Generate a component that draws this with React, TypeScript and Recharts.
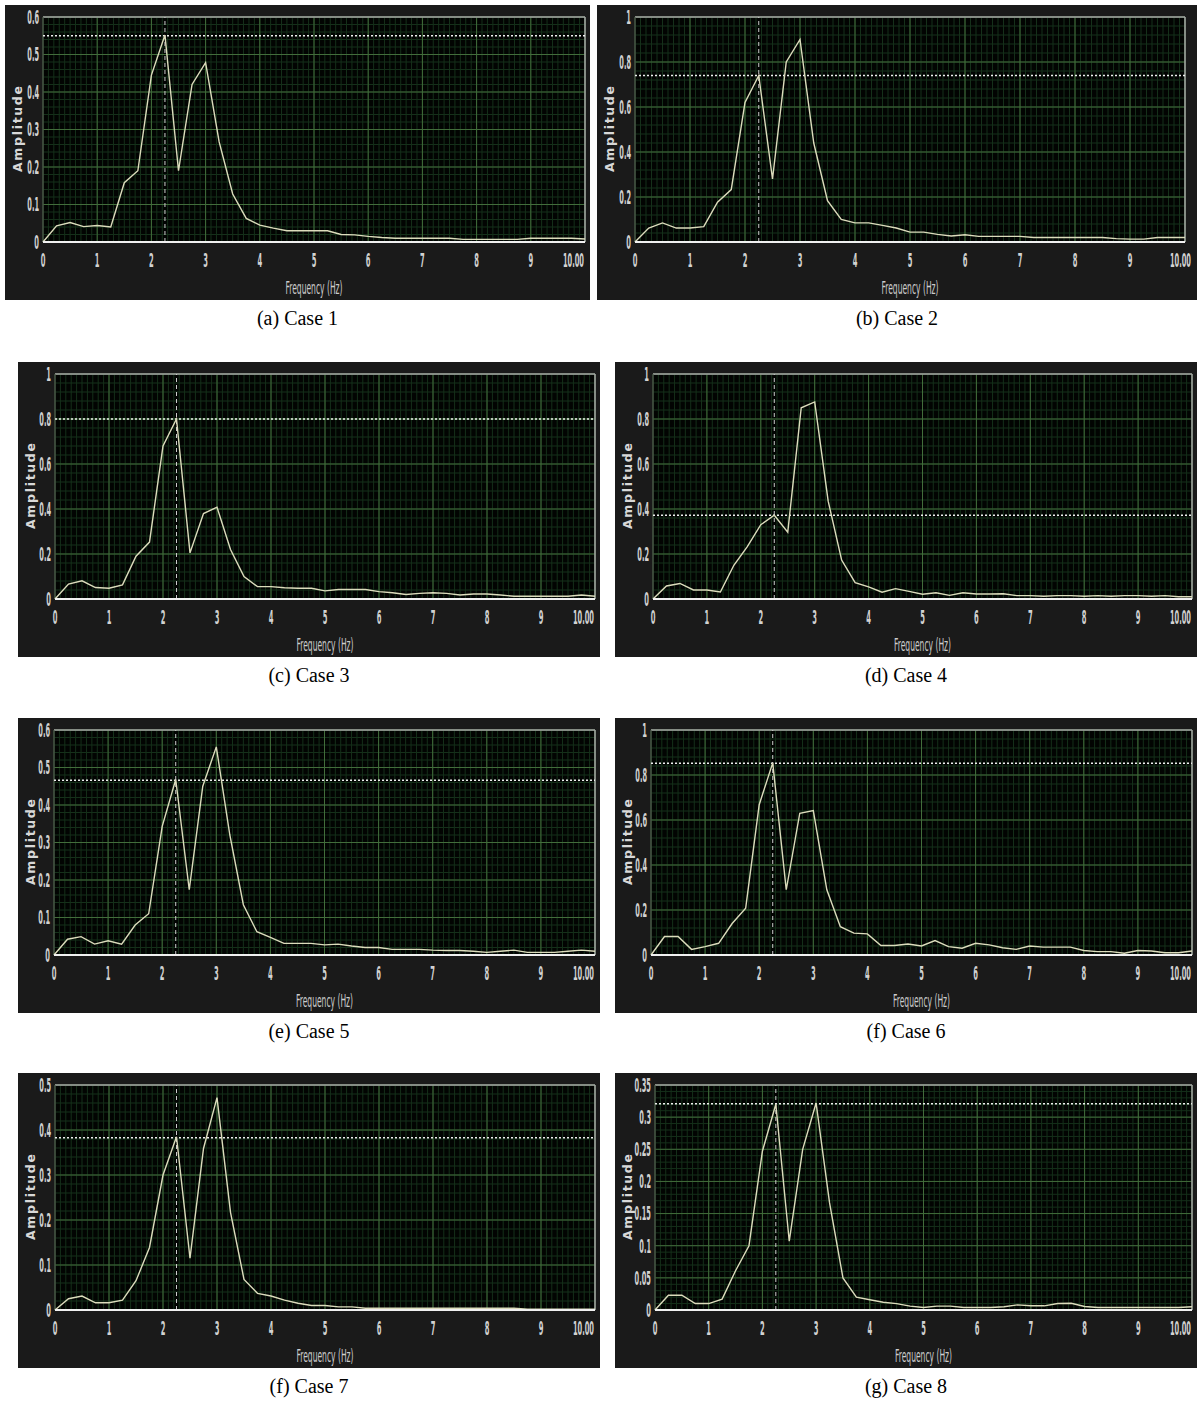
import React from "react";
import { LineChart, Line, XAxis, YAxis, CartesianGrid, ReferenceLine } from "recharts";

// frequency bins (Hz)
const FREQ = [
  0, 0.25, 0.5, 0.75, 1, 1.25, 1.5, 1.75, 2, 2.25, 2.5, 2.75, 3, 3.25, 3.5, 3.75, 4, 4.25, 4.5, 4.75,
  5, 5.25, 5.5, 5.75, 6, 6.25, 6.5, 6.75, 7, 7.25, 7.5, 7.75, 8, 8.25, 8.5, 8.75, 9, 9.25, 9.5, 9.75, 10,
];

const CASE1 = [
  0, 0.043, 0.052, 0.041, 0.044, 0.04, 0.158, 0.19, 0.445, 0.552, 0.19, 0.42, 0.478, 0.267, 0.128, 0.063, 0.045, 0.037, 0.03, 0.03,
  0.03, 0.03, 0.02, 0.019, 0.015, 0.012, 0.01, 0.01, 0.01, 0.01, 0.01, 0.007, 0.007, 0.007, 0.007, 0.007, 0.01, 0.01, 0.01, 0.01, 0.008,
];
const CASE2 = [
  0, 0.062, 0.085, 0.062, 0.062, 0.068, 0.177, 0.233, 0.62, 0.74, 0.28, 0.8, 0.9, 0.44, 0.184, 0.1, 0.085, 0.085, 0.074, 0.062,
  0.044, 0.044, 0.034, 0.027, 0.032, 0.025, 0.025, 0.025, 0.025, 0.02, 0.02, 0.02, 0.02, 0.02, 0.02, 0.015, 0.013, 0.013, 0.02, 0.02, 0.02,
];
const CASE3 = [
  0, 0.066, 0.081, 0.051, 0.048, 0.063, 0.19, 0.253, 0.68, 0.8, 0.205, 0.38, 0.408, 0.22, 0.1, 0.055, 0.055, 0.05, 0.048, 0.048,
  0.036, 0.042, 0.042, 0.042, 0.033, 0.028, 0.02, 0.025, 0.028, 0.025, 0.018, 0.022, 0.022, 0.018, 0.012, 0.012, 0.012, 0.012, 0.012, 0.018, 0.012,
];
const CASE4 = [
  0, 0.058, 0.069, 0.04, 0.04, 0.031, 0.15, 0.233, 0.33, 0.372, 0.297, 0.85, 0.876, 0.435, 0.173, 0.073, 0.054, 0.03, 0.046, 0.034,
  0.021, 0.028, 0.016, 0.028, 0.022, 0.022, 0.023, 0.015, 0.015, 0.012, 0.015, 0.015, 0.012, 0.015, 0.012, 0.015, 0.015, 0.012, 0.015, 0.01, 0.01,
];
const CASE5 = [
  0, 0.042, 0.049, 0.029, 0.038, 0.029, 0.08, 0.11, 0.343, 0.468, 0.174, 0.45, 0.555, 0.32, 0.134, 0.062, 0.047, 0.031, 0.031, 0.031,
  0.027, 0.029, 0.024, 0.02, 0.02, 0.015, 0.015, 0.015, 0.013, 0.012, 0.012, 0.01, 0.007, 0.01, 0.013, 0.007, 0.007, 0.007, 0.01, 0.013, 0.01,
];
const CASE6 = [
  0, 0.082, 0.082, 0.025, 0.037, 0.052, 0.14, 0.208, 0.668, 0.854, 0.29, 0.63, 0.642, 0.29, 0.126, 0.097, 0.094, 0.042, 0.042, 0.049,
  0.04, 0.064, 0.037, 0.03, 0.052, 0.045, 0.032, 0.025, 0.04, 0.035, 0.035, 0.035, 0.02, 0.015, 0.015, 0.008, 0.02, 0.018, 0.01, 0.01, 0.018,
];
const CASE7 = [
  0, 0.025, 0.031, 0.016, 0.016, 0.022, 0.065, 0.139, 0.3, 0.385, 0.115, 0.359, 0.472, 0.217, 0.068, 0.037, 0.031, 0.022, 0.015, 0.01,
  0.01, 0.007, 0.007, 0.004, 0.004, 0.004, 0.004, 0.004, 0.004, 0.004, 0.004, 0.004, 0.004, 0.004, 0.004, 0.002, 0.002, 0.002, 0.002, 0.002, 0.002,
];
const CASE8 = [
  0, 0.023, 0.023, 0.01, 0.01, 0.017, 0.061, 0.1, 0.247, 0.32, 0.107, 0.25, 0.322, 0.167, 0.05, 0.02, 0.016, 0.012, 0.01, 0.006,
  0.004, 0.006, 0.006, 0.004, 0.004, 0.004, 0.005, 0.008, 0.0065, 0.0065, 0.01, 0.0105, 0.0055, 0.004, 0.004, 0.004, 0.004, 0.004, 0.004, 0.004, 0.005,
];

// level of the dotted marker line in each case
const PEAKS = [0.55, 0.74, 0.8, 0.372, 0.466, 0.852, 0.383, 0.321];
const MARKER_FREQ = 2.25;

const X_TICKS = [0, 1, 2, 3, 4, 5, 6, 7, 8, 9, 10];
const Y_TICKS_06 = [0, 0.1, 0.2, 0.3, 0.4, 0.5, 0.6];
const Y_TICKS_10 = [0, 0.2, 0.4, 0.6, 0.8, 1];
const Y_TICKS_05 = [0, 0.1, 0.2, 0.3, 0.4, 0.5];
const Y_TICKS_035 = [0, 0.05, 0.1, 0.15, 0.2, 0.25, 0.3, 0.35];

const CAPTIONS = ["(a) Case 1", "(b) Case 2", "(c) Case 3", "(d) Case 4", "(e) Case 5", "(f) Case 6", "(f) Case 7", "(g) Case 8"];

const SERIES = [CASE1, CASE2, CASE3, CASE4, CASE5, CASE6, CASE7, CASE8];
const TICK_SETS = [Y_TICKS_06, Y_TICKS_10, Y_TICKS_10, Y_TICKS_10, Y_TICKS_06, Y_TICKS_10, Y_TICKS_05, Y_TICKS_035];

// panel boxes on the page; plotLeft is where x = 0 sits inside the panel
const LAYOUT = [
  { left: 5, top: 5, width: 585, right: 5, plotLeft: 38 },
  { left: 597, top: 5, width: 600, right: 12, plotLeft: 38 },
  { left: 18, top: 362, width: 582, right: 5, plotLeft: 37 },
  { left: 615, top: 362, width: 582, right: 5, plotLeft: 38 },
  { left: 18, top: 718, width: 582, right: 5, plotLeft: 36 },
  { left: 615, top: 718, width: 582, right: 5, plotLeft: 36 },
  { left: 18, top: 1073, width: 582, right: 5, plotLeft: 37 },
  { left: 615, top: 1073, width: 582, right: 5, plotLeft: 40 },
];

const PANEL_H = 295;
const TICK_FONT = "'DejaVu Sans Condensed', 'Liberation Sans Narrow', sans-serif";

const textWidth = (s: string) => {
  let w = 0;
  for (const c of s) w += c === "." ? 2.3 : 4.7;
  return w;
};

const fmt = (v: number) => (v === 10 ? "10.00" : String(Math.round(v * 1000) / 1000));

const XTick = (props: any) => {
  const { x, y, payload, edge } = props;
  const s = fmt(payload.value);
  // the last label hugs the panel's right edge
  const last = payload.value === 10;
  return (
    <text x={last ? edge : x} y={y} dy="0.72em" textAnchor={last ? "end" : "middle"} fontFamily={TICK_FONT}
      fontWeight="bold" fontSize={19} fill="#d2d2d2" textLength={textWidth(s)} lengthAdjust="spacingAndGlyphs">
      {s}
    </text>
  );
};

const YTick = (props: any) => {
  const { x, y, payload } = props;
  const s = fmt(payload.value);
  return (
    <text x={x} y={y} dy="0.36em" textAnchor="end" fontFamily={TICK_FONT} fontWeight="bold"
      fontSize={19} fill="#d2d2d2" textLength={textWidth(s)} lengthAdjust="spacingAndGlyphs">
      {s}
    </text>
  );
};

function Panel({ index }: { index: number }) {
  const { left, top, width, right, plotLeft } = LAYOUT[index];
  const yTicks = TICK_SETS[index];
  const yMax = yTicks[yTicks.length - 1];
  const data = FREQ.map((f, i) => ({ f, amp: SERIES[index][i] }));

  const step = (yTicks[1] - yTicks[0]) / 5;
  const hMinor: number[] = [];
  for (let k = 0; k * step <= yMax + 1e-9; k++) hMinor.push(Math.round(k * step * 10000) / 10000);
  const vMinor: number[] = [];
  for (let k = 0; k <= 100; k++) vMinor.push(k / 10);

  const plotRight = width - right;

  return (
    <div style={{ position: "absolute", left, top, width, height: PANEL_H, background: "#1a1a1a" }}>
      <LineChart width={width} height={PANEL_H} data={data} margin={{ top: 12, right, bottom: 28, left: 4 }}>
        <CartesianGrid horizontalValues={hMinor} verticalValues={vMinor} stroke="#15301a" fill="#020402" />
        <CartesianGrid horizontalValues={yTicks} verticalValues={X_TICKS} stroke="#426d3b" fill="none" />
        <XAxis
          dataKey="f"
          type="number"
          domain={[0, 10]}
          ticks={X_TICKS}
          interval={0}
          height={30}
          tickSize={0}
          tickMargin={11}
          tick={<XTick edge={width - 6} />}
          axisLine={{ stroke: "#f0f0f0", strokeWidth: 2 }}
          tickLine={false}
        />
        <YAxis
          type="number"
          domain={[0, yMax]}
          ticks={yTicks}
          interval={0}
          width={plotLeft - 4}
          tickSize={0}
          tickMargin={4}
          tick={<YTick />}
          axisLine={false}
          tickLine={false}
        />
        <ReferenceLine y={yMax} stroke="#a4a4a4" strokeWidth={1.5} />
        <ReferenceLine x={10} stroke="#a4a4a4" strokeWidth={1.5} />
        <ReferenceLine x={0} stroke="#4a4a4a" strokeWidth={1} />
        <ReferenceLine x={MARKER_FREQ} stroke="#cccccc" strokeDasharray="4 3" strokeWidth={1} />
        <ReferenceLine y={PEAKS[index]} stroke="#eeeeee" strokeDasharray="2 2" strokeWidth={1.5} />
        <Line type="linear" dataKey="amp" stroke="#dcdcbc" strokeWidth={1.4} dot={false} isAnimationActive={false} />
      </LineChart>
      <svg width={width} height={PANEL_H} style={{ position: "absolute", left: 0, top: 0, pointerEvents: "none" }}>
        <text x={13} y={124} transform="rotate(-90 13 124)" textAnchor="middle" dy="0.35em"
          fontFamily="'DejaVu Sans', sans-serif" fontWeight="bold" fontSize={12.5} fill="#d8d8d8"
          textLength={86} lengthAdjust="spacing">
          Amplitude
        </text>
        <text x={(plotLeft + plotRight) / 2} y={289} textAnchor="middle" fontFamily={TICK_FONT}
          fontSize={17} fill="#cccccc" textLength={57} lengthAdjust="spacingAndGlyphs">
          Frequency (Hz)
        </text>
      </svg>
    </div>
  );
}

export default function App() {
  return (
    <div style={{ position: "absolute", left: 0, top: 0, width: 1197, height: 1401, background: "#fff", overflow: "hidden" }}>
      {LAYOUT.map((p, i) => (
        <React.Fragment key={i}>
          <Panel index={i} />
          <div
            style={{
              position: "absolute",
              left: p.left,
              top: p.top + 302,
              width: p.width,
              textAlign: "center",
              fontFamily: "'Liberation Serif', 'Times New Roman', serif",
              fontSize: 20,
              lineHeight: "22px",
              color: "#000",
            }}
          >
            {CAPTIONS[i]}
          </div>
        </React.Fragment>
      ))}
    </div>
  );
}
